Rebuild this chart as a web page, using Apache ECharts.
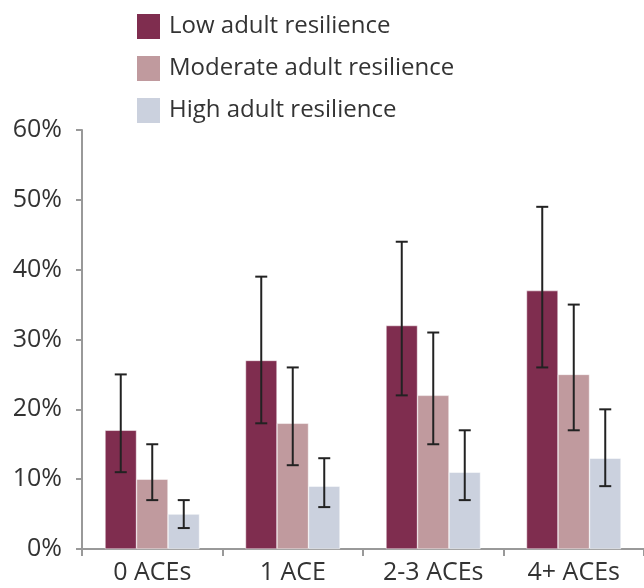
<!DOCTYPE html>
<html><head><meta charset="utf-8">
<script src="https://cdn.jsdelivr.net/npm/echarts@6/dist/echarts.min.js"></script>
<style>html,body{margin:0;padding:0;background:#fff}#c{width:644px;height:588px}</style>
</head><body><div id="c"></div>
<script>
var categories = ['0 ACEs', '1 ACE', '2-3 ACEs', '4+ ACEs'];
var seriesNames = ['Low adult resilience', 'Moderate adult resilience', 'High adult resilience'];
var lowVals = [17, 27, 32, 37];
var lowErr = [[11, 25], [18, 39], [22, 44], [26, 49]];
var modVals = [10, 18, 22, 25];
var modErr = [[7, 15], [12, 26], [15, 31], [17, 35]];
var highVals = [5, 9, 11, 13];
var highErr = [[3, 7], [6, 13], [7, 17], [9, 20]];
var yTicks = [0, 10, 20, 30, 40, 50, 60];

var colors = ['#7f2d4f', '#c09a9e', '#cbd1de'];
var BW = 31.5;
var FONT = '"Open Sans", "Noto Sans", sans-serif';

function errSeries(errs, idx) {
  return {
    type: 'custom',
    z: 10,
    silent: true,
    data: errs.map(function (e, i) { return [i, e[0], e[1]]; }),
    renderItem: function (params, api) {
      var lo = api.coord([api.value(0), api.value(1)]);
      var hi = api.coord([api.value(0), api.value(2)]);
      var x = lo[0] + (idx - 1) * BW;
      var hw = 6;
      var st = { stroke: '#222', lineWidth: 2 };
      return {
        type: 'group',
        children: [
          { type: 'line', shape: { x1: x, y1: lo[1], x2: x, y2: hi[1] }, style: st },
          { type: 'line', shape: { x1: x - hw, y1: lo[1], x2: x + hw, y2: lo[1] }, style: st },
          { type: 'line', shape: { x1: x - hw, y1: hi[1], x2: x + hw, y2: hi[1] }, style: st }
        ]
      };
    }
  };
}

var chart = echarts.init(document.getElementById('c'), null, { renderer: 'canvas' });
chart.setOption({
  animation: false,
  textStyle: { fontFamily: FONT },
  legend: {
    orient: 'vertical',
    left: 130,
    top: 7,
    itemWidth: 25,
    itemHeight: 27,
    itemGap: 13,
    icon: 'rect',
    data: seriesNames,
    textStyle: { fontSize: 24, color: '#333', fontFamily: FONT, padding: [0, 0, 0, 3] }
  },
  grid: { left: 82, right: 0, top: 130, bottom: 39, containLabel: false },
  xAxis: {
    type: 'category',
    data: categories,
    axisLine: { lineStyle: { color: '#999', width: 2 } },
    axisTick: { show: true, length: 7, lineStyle: { color: '#999', width: 2 } },
    axisLabel: { fontSize: 25, color: '#333', margin: 11, fontFamily: FONT }
  },
  yAxis: {
    type: 'value',
    min: yTicks[0],
    max: yTicks[yTicks.length - 1],
    interval: 10,
    axisLine: { show: true, lineStyle: { color: '#999', width: 2 } },
    axisTick: { show: true, length: 6, lineStyle: { color: '#999', width: 2 } },
    splitLine: { show: false },
    axisLabel: { fontSize: 25, color: '#333', margin: 20, formatter: '{value}%', fontFamily: FONT }
  },
  series: [
    { name: seriesNames[0], type: 'bar', data: lowVals, barWidth: BW, barGap: '0%', itemStyle: { color: colors[0], borderColor: '#fff', borderWidth: 0.5 } },
    { name: seriesNames[1], type: 'bar', data: modVals, barWidth: BW, barGap: '0%', itemStyle: { color: colors[1], borderColor: '#fff', borderWidth: 0.5 } },
    { name: seriesNames[2], type: 'bar', data: highVals, barWidth: BW, barGap: '0%', itemStyle: { color: colors[2], borderColor: '#fff', borderWidth: 0.5 } },
    errSeries(lowErr, 0),
    errSeries(modErr, 1),
    errSeries(highErr, 2)
  ]
});
</script></body></html>
